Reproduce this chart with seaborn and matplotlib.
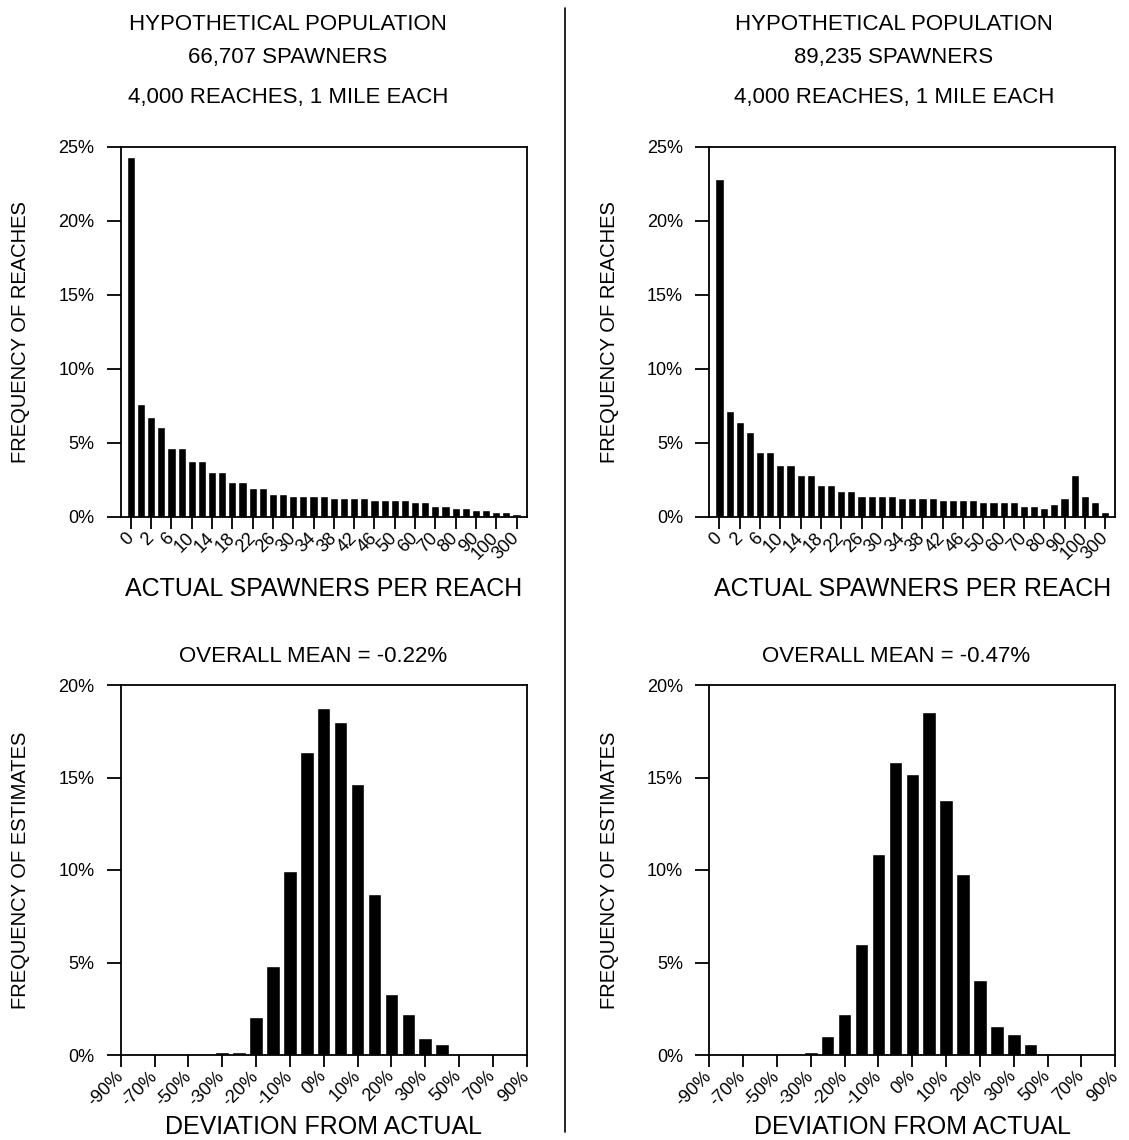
import numpy as np
import pandas as pd
import matplotlib
matplotlib.use('Agg')
import matplotlib.pyplot as plt
from matplotlib.lines import Line2D
from matplotlib.ticker import FuncFormatter
import seaborn as sns

# spawners per reach categories (one bar each)
reach_cats = ['0', '1', '2', '4', '6', '8', '10', '12', '14', '16', '18', '20', '22',
              '24', '26', '28', '30', '32', '34', '36', '38', '40', '42', '44', '46',
              '48', '50', '55', '60', '65', '70', '75', '80', '85', '90', '95', '100',
              '200', '300']
reach_freq_a = [24.3, 7.59, 6.76, 6.08, 4.62, 4.62, 3.78, 3.78, 3.0, 3.0, 2.32, 2.32,
                1.91, 1.91, 1.51, 1.51, 1.37, 1.37, 1.37, 1.37, 1.24, 1.24, 1.24, 1.24,
                1.13, 1.13, 1.13, 1.13, 0.97, 0.97, 0.72, 0.72, 0.59, 0.59, 0.45, 0.45,
                0.29, 0.29, 0.16]
reach_freq_b = [22.8, 7.16, 6.37, 5.70, 4.35, 4.35, 3.51, 3.51, 2.84, 2.84, 2.16, 2.16,
                1.76, 1.76, 1.37, 1.37, 1.37, 1.37, 1.24, 1.24, 1.24, 1.24, 1.10, 1.10,
                1.10, 1.10, 0.97, 0.97, 0.97, 0.97, 0.70, 0.70, 0.56, 0.83, 1.24, 2.84,
                1.37, 0.97, 0.29]

# deviation of estimates from actual (%)
dev_cats = ['-90%', '-80%', '-70%', '-60%', '-50%', '-40%', '-30%', '-25%', '-20%',
            '-15%', '-10%', '-5%', '0%', '5%', '10%', '15%', '20%', '25%', '30%',
            '40%', '50%', '60%', '70%', '80%', '90%']
dev_freq_a = [0, 0, 0, 0, 0, 0, 0.14, 0.14, 2.07, 4.81, 9.95, 16.36, 18.74, 17.98,
              14.63, 8.68, 3.30, 2.20, 0.90, 0.58, 0, 0, 0, 0, 0]
dev_freq_b = [0, 0, 0, 0, 0, 0, 0.14, 1.01, 2.20, 5.98, 10.85, 15.82, 15.17, 18.52,
              13.77, 9.77, 4.04, 1.55, 1.12, 0.58, 0, 0, 0, 0, 0]

spawner_totals = ['66,707', '89,235']
overall_means = ['-0.22%', '-0.47%']

sns.set_theme(style='white')
plt.rcParams['font.family'] = ['Liberation Sans', 'DejaVu Sans']
plt.rcParams['text.color'] = 'black'
plt.rcParams['axes.labelcolor'] = 'black'
plt.rcParams['xtick.color'] = 'black'
plt.rcParams['ytick.color'] = 'black'

W, H = 1129, 1140
fig = plt.figure(figsize=(W / 100, H / 100), dpi=100)

pct = FuncFormatter(lambda v, p: f'{v:.0f}%')


def style_axis(ax, ymax, ystep, xlabel, ylabel):
    for s in ax.spines.values():
        s.set_visible(True)
        s.set_color('black')
        s.set_linewidth(1.3)
    ax.set_ylim(0, ymax)
    ax.set_yticks(np.arange(0, ymax + 0.1, ystep))
    ax.yaxis.set_major_formatter(pct)
    ax.tick_params(axis='y', direction='out', length=10, width=1.3, pad=9,
                   labelsize=13, left=True, colors='black')
    ax.tick_params(axis='x', direction='out', length=8.5, width=1.3, pad=5,
                   labelsize=13, bottom=True, colors='black')
    for lab in ax.get_xticklabels():
        lab.set_rotation(45)
        lab.set_ha('right')
        lab.set_va('center')
        lab.set_rotation_mode('anchor')
    ax.set_xlabel(xlabel, fontsize=18, color='black')
    ax.xaxis.set_label_coords(0.5, -0.195)
    ax.xaxis.label.set_va('center')
    ax.set_ylabel(ylabel, fontsize=14.5, color='black')
    ax.yaxis.set_label_coords(-0.246, 0.5)
    ax.yaxis.label.set_va('center')


lefts = [120.7 / W, 709.3 / W]
aw = 406 / W
ah = 370 / H

for i, (freq, dev) in enumerate([(reach_freq_a, dev_freq_a), (reach_freq_b, dev_freq_b)]):
    # top: distribution of actual spawners
    ax = fig.add_axes([lefts[i], 1 - 516.7 / H, aw, ah])
    df = pd.DataFrame({'cat': reach_cats, 'freq': freq})
    sns.barplot(data=df, x='cat', y='freq', order=reach_cats, color='black',
                saturation=1, width=0.8, ax=ax)
    ax.set_xlim(-1, len(reach_cats))
    ax.set_xticks(range(0, len(reach_cats), 2))
    ax.set_xticklabels(reach_cats[::2])
    style_axis(ax, 25, 5, 'ACTUAL SPAWNERS PER REACH', 'FREQUENCY OF REACHES')

    # bottom: deviation of estimates
    ax2 = fig.add_axes([lefts[i], 1 - 1055 / H, aw, ah])
    df2 = pd.DataFrame({'cat': dev_cats, 'freq': dev})
    sns.barplot(data=df2, x='cat', y='freq', order=dev_cats, color='black',
                saturation=1, width=0.8, ax=ax2)
    ax2.set_xlim(0, len(dev_cats) - 1)
    ax2.set_xticks(range(0, len(dev_cats), 2))
    ax2.set_xticklabels(dev_cats[::2])
    style_axis(ax2, 20, 5, 'DEVIATION FROM ACTUAL', 'FREQUENCY OF ESTIMATES')

    # headings
    cx = [288 / W, 894 / W][i]
    fig.text(cx, 1 - 24 / H, 'HYPOTHETICAL POPULATION', ha='center', va='center', fontsize=16)
    fig.text(cx, 1 - 57 / H, f'{spawner_totals[i]} SPAWNERS', ha='center', va='center', fontsize=16)
    fig.text(cx, 1 - 97 / H, '4,000 REACHES, 1 MILE EACH', ha='center', va='center', fontsize=16)
    mx = [313 / W, 896 / W][i]
    fig.text(mx, 1 - 656 / H, f'OVERALL MEAN = {overall_means[i]}', ha='center', va='center',
             fontsize=16)

# divider between the two populations
fig.add_artist(Line2D([565 / W, 565 / W], [1 - 8 / H, 1 - 1132 / H], color='black', lw=1.2))

fig.savefig('out.png', dpi=100, facecolor='white')
